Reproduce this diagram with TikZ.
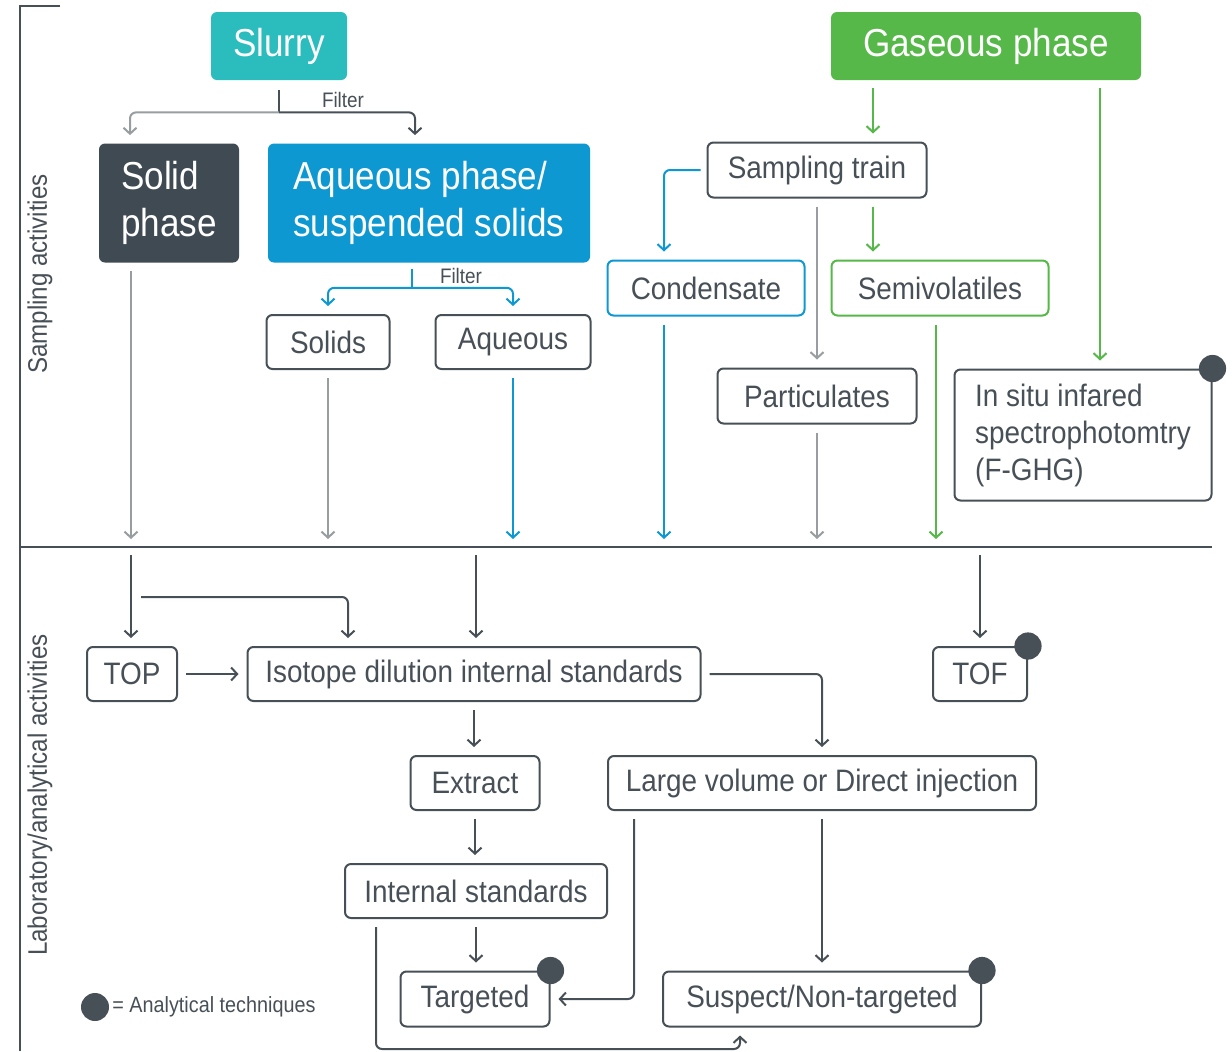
\documentclass[tikz,border=0pt]{standalone}
\usepackage{fontspec}
\setmainfont{Liberation Sans}[FakeStretch=0.9]
\usepackage{tikz}
\usetikzlibrary{arrows.meta}

\definecolor{SlurryTeal}{RGB}{43,188,189}
\definecolor{SolidSlate}{RGB}{63,74,83}
\definecolor{AqBlue}{RGB}{14,152,210}
\definecolor{GasGreen}{RGB}{86,184,72}
\definecolor{LineGray}{RGB}{152,157,160}
\definecolor{InkDark}{RGB}{72,80,87}

\begin{document}
\begin{tikzpicture}[x=0.5pt,y=-0.5pt,
        box/.style={draw=InkDark, line width=1pt, rounded corners=3pt, fill=white,
            text=InkDark, inner sep=0pt, font=\fontsize{15.5}{18.5}\selectfont},
        cbox/.style={box, draw=#1},
        bigbox/.style={rounded corners=3pt, fill=#1, text=white, inner sep=0pt,
            align=left, font=\fontsize{19.5}{23.5}\selectfont},
        link/.style={line width=1pt, rounded corners=3pt, shorten <=4pt, shorten >=4pt,
            -{Straight Barb[length=3pt,width=6.5pt]}},
        filterlbl/.style={text=InkDark, inner sep=0pt, font=\fontsize{10.5}{12}\selectfont},
        sidelbl/.style={text=InkDark, inner sep=0pt, rotate=90, font=\fontsize{13.4}{15}\selectfont},
        dot/.style={fill=InkDark}]

        \fill[white] (0,0) rectangle (1232,1051);
        \useasboundingbox (0,0) rectangle (1232,1051);

        % frame
        \draw[InkDark, line width=1.1pt] (60,6) -- (20,6) -- (20,1051);
        \coordinate (divL) at (20,547);
        \coordinate (divR) at (1212,547);
        \draw[InkDark, line width=1.1pt] (divL) -- (divR);

        \node[sidelbl] (samplbl) at (40,274) {Sampling activities};
        \node[sidelbl] (lablbl) at (40,795) {Laboratory/analytical activities};

        % sampling
        \node[bigbox=SlurryTeal, minimum width=68pt, minimum height=34pt] (slurry) at (279,46) {Slurry};
        \node[bigbox=GasGreen, minimum width=155pt, minimum height=34pt] (gas) at (986,46) {Gaseous phase};
        \node[bigbox=SolidSlate, minimum width=70pt, minimum height=59.5pt] (solid) at (169,203) {Solid\\phase};
        \node[bigbox=AqBlue, minimum width=161pt, minimum height=59.5pt] (aqph) at (429,203) {Aqueous phase/\\suspended solids};

        \node[box, minimum width=61.5pt, minimum height=27pt] (solids) at (328,342) {Solids};
        \node[box, minimum width=77.5pt, minimum height=27pt] (aqueous) at (513,342) {Aqueous};

        \node[box, minimum width=109.5pt, minimum height=27.5pt] (train) at (817,170) {Sampling train};
        \node[cbox=AqBlue, minimum width=98.5pt, minimum height=27.5pt] (condensate) at (706,288) {Condensate};
        \node[cbox=GasGreen, minimum width=108.5pt, minimum height=27.5pt] (semivol) at (940,288) {Semivolatiles};
        \node[box, minimum width=99.5pt, minimum height=27.5pt] (partic) at (817,396) {Particulates};
        \node[box, minimum width=128.5pt, minimum height=65.5pt, align=left,
            font=\fontsize{15.5}{18.5}\selectfont] (insitu) at (1083,435)
            {In situ infared\\spectrophotomtry\\(F-GHG)};

        % filter forks
        \draw[InkDark, line width=1pt] ([yshift=-5pt]slurry.south) -- ++(0,22) coordinate (fork1);
        \node[filterlbl] (filter1) at (343,100) {Filter};
        \coordinate (solidIn) at ([xshift=-19.5pt]solid.north);
        \coordinate (aqphIn) at ([xshift=-7pt]aqph.north);
        \draw[link, LineGray, shorten <=0pt] (fork1) -| (solidIn);
        \draw[link, InkDark, shorten <=0pt] (fork1) -| (aqphIn);

        \draw[AqBlue, line width=1pt] ([xshift=-8.5pt,yshift=-3pt]aqph.south) -- ++(0,19) coordinate (fork2);
        \node[filterlbl] (filter2) at (461,276) {Filter};
        \draw[link, AqBlue, shorten <=0pt] (fork2) -| (solids.north);
        \draw[link, AqBlue, shorten <=0pt] (fork2) -| (aqueous.north);

        \coordinate (trainIn) at ([xshift=28pt]train.north);
        \coordinate (insIn) at ([xshift=8.5pt]insitu.north);
        \coordinate (condIn) at ([xshift=-21pt]condensate.north);
        \draw[link, GasGreen] (trainIn |- gas.south) -- (trainIn);
        \draw[link, GasGreen] (insIn |- gas.south) -- (insIn);
        \draw[link, AqBlue, shorten <=3pt] (train.west) -| (condIn);
        \draw[link, LineGray] (train.south) -- (partic.north);
        \draw[link, GasGreen] (trainIn |- train.south) -- (trainIn |- semivol.north);

        % down to the lab
        \coordinate (solidOut) at ([xshift=-19pt]solid.south);
        \draw[link, LineGray] (solidOut) -- (solidOut |- divL);
        \draw[link, LineGray] (solids.south) -- (solids.south |- divL);
        \draw[link, AqBlue] (aqueous.south) -- (aqueous.south |- divL);
        \draw[link, AqBlue] (condIn |- condensate.south) -- (condIn |- divL);
        \draw[link, LineGray] (partic.south) -- (partic.south |- divL);
        \draw[link, GasGreen] ([xshift=-2pt]semivol.south) coordinate (semiOut) -- (semiOut |- divL);

        % laboratory
        \node[box, minimum width=45pt, minimum height=27pt] (top) at (132,674) {TOP};
        \node[box, minimum width=226.5pt, minimum height=27pt] (isotope) at (474,674) {Isotope dilution internal standards};
        \node[box, minimum width=47pt, minimum height=27pt] (tof) at (980,674) {TOF};
        \node[box, minimum width=64.5pt, minimum height=27pt] (extract) at (475,783) {Extract};
        \node[box, minimum width=214pt, minimum height=27pt] (large) at (822,783) {Large volume or Direct injection};
        \node[box, minimum width=131pt, minimum height=27pt] (intstd) at (476,891) {Internal standards};
        \node[box, minimum width=74.5pt, minimum height=27.5pt] (targeted) at (475,999) {Targeted};
        \node[box, minimum width=159pt, minimum height=27.5pt] (suspect) at (822,999) {Suspect/Non-targeted};

        \coordinate (labFork) at (141,597);
        \coordinate (isoIn) at ([xshift=-63pt]isotope.north);
        \coordinate (lgOut) at ([xshift=-94pt]large.south);
        \coordinate (isOut) at ([xshift=-50pt]intstd.south);
        \coordinate (susIn) at ([xshift=-41pt]suspect.south);
        \coordinate (botY) at (0,1049);

        \draw[link, InkDark] (solidOut |- divL) -- (solidOut |- top.north);
        \draw[link, InkDark, shorten <=0pt] (labFork) -| (isoIn);
        \draw[link, InkDark] ([xshift=1pt]isotope.north |- divL) -- ([xshift=1pt]isotope.north);
        \draw[link, InkDark] (tof.north |- divL) -- (tof.north);
        \draw[link, InkDark] (top.east) -- (isotope.west);
        \draw[link, InkDark] (isotope.east) -| (large.north);
        \draw[link, InkDark] (isotope.south) -- (isotope.south |- extract.north);
        \draw[link, InkDark] (extract.south) -- (extract.south |- intstd.north);
        \draw[link, InkDark] (intstd.south) -- (intstd.south |- targeted.north);
        \draw[link, InkDark] (large.south) -- (suspect.north);
        \draw[link, InkDark] (lgOut) |- (targeted.east);
        \draw[link, InkDark] (isOut) -- (isOut |- botY) -| (susIn);

        % analytical techniques
        \fill[dot] (insitu.north east) circle (6.8pt);
        \fill[dot] (tof.north east) circle (6.8pt);
        \fill[dot] (targeted.north east) circle (6.8pt);
        \fill[dot] (suspect.north east) circle (6.8pt);

        \node[circle, dot, inner sep=0pt, minimum size=14pt] (legdot) at (95,1007) {};
        \node[anchor=west, text=InkDark, inner sep=0pt, font=\fontsize{11}{13}\selectfont]
            (legtxt) at (112,1007) {= Analytical techniques};
\end{tikzpicture}
\end{document}
